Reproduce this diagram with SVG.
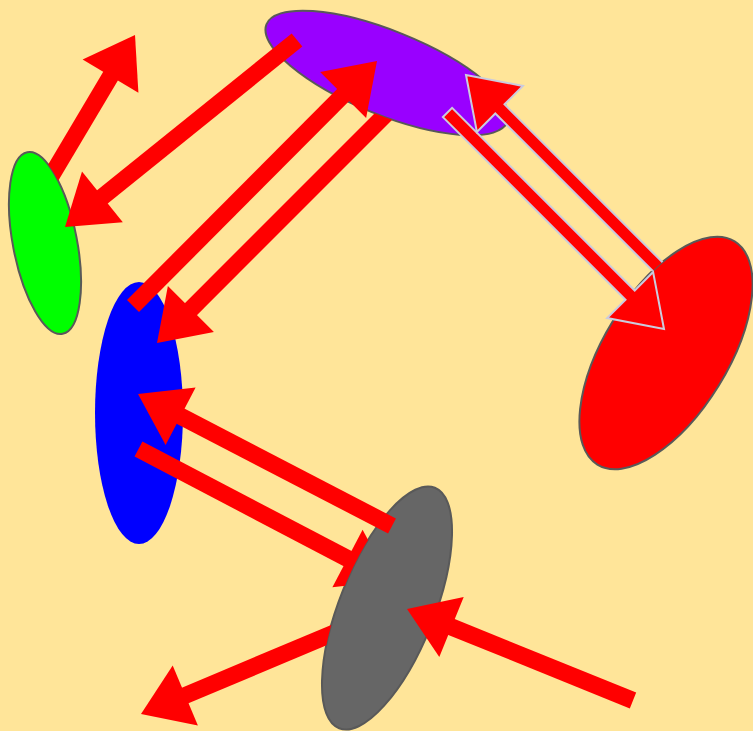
<svg xmlns="http://www.w3.org/2000/svg" width="753" height="731" viewBox="0 0 753 731">
<style>
.node{stroke:#595959;stroke-width:2}
.shaft{stroke:#FF0000;stroke-width:17;stroke-linecap:butt;fill:none}
.head{fill:#FF0000;stroke:none}
.outlined{fill:#FF0000;stroke:#CBCBDD;stroke-width:2;stroke-linejoin:miter}
</style>
<defs>
<mask id="notGreen" maskUnits="userSpaceOnUse" x="0" y="0" width="753" height="731">
<rect width="753" height="731" fill="#fff"/>
<ellipse cx="45" cy="243" rx="32" ry="92.5" transform="rotate(-11 45 243)" fill="#000"/>
</mask>
<mask id="notPurple" maskUnits="userSpaceOnUse" x="0" y="0" width="753" height="731">
<rect width="753" height="731" fill="#fff"/>
<ellipse cx="387" cy="73" rx="130" ry="42" transform="rotate(22 387 73)" fill="#000"/>
</mask>
<mask id="notRed" maskUnits="userSpaceOnUse" x="0" y="0" width="753" height="731">
<rect width="753" height="731" fill="#fff"/>
<ellipse cx="666" cy="353" rx="62" ry="131" transform="rotate(31.6 666 353)" fill="#000"/>
</mask>
<mask id="notGray" maskUnits="userSpaceOnUse" x="0" y="0" width="753" height="731">
<rect width="753" height="731" fill="#fff"/>
<ellipse cx="387" cy="608" rx="47.4" ry="129.4" transform="rotate(21.7 387 608)" fill="#000"/>
</mask>
</defs>
<rect width="753" height="731" fill="#FFE599"/>
<g id="nodes">
<g id="node-purple"><ellipse class="node" cx="387" cy="73" rx="130" ry="42" transform="rotate(22 387 73)" fill="#9900FF"/></g>
<g id="node-green"><ellipse class="node" cx="45" cy="243" rx="32" ry="92.5" transform="rotate(-11 45 243)" fill="#00FF00"/></g>
<g id="node-blue"><ellipse cx="139" cy="413" rx="44" ry="131" fill="#0000FF"/></g>
<g id="node-red"><ellipse class="node" cx="666" cy="353" rx="62" ry="131" transform="rotate(31.6 666 353)" fill="#FF0000"/></g>
<g id="node-gray"><ellipse class="node" cx="387" cy="608" rx="47.4" ry="129.4" transform="rotate(21.7 387 608)" fill="#666666"/></g>
</g>
<g id="connectors">
<g id="green-out" mask="url(#notGreen)">
<line class="shaft" x1="39" y1="196.5" x2="112.5" y2="72.8"/>
<polygon class="head" points="135,35 138.4,92.8 82.6,59.6"/>
</g>
<g id="purple-green">
<line class="shaft" x1="297" y1="40" x2="99.3" y2="199.4"/>
<polygon class="head" points="65,227 122.8,222.2 82,171.6"/>
</g>
<g id="blue-purple">
<line class="shaft" x1="133" y1="306" x2="345.9" y2="92.2"/>
<polygon class="head" points="377,61 366.1,117.9 320.1,72.1"/>
</g>
<g id="purple-blue" mask="url(#notPurple)">
<line class="shaft" x1="395" y1="105" x2="188.1" y2="311.9"/>
<polygon class="head" points="157,343 213.9,332.1 167.9,286.1"/>
</g>
<g id="purple-red">
<polygon class="outlined" points="442.9,117.1 625.5,299.7 607.1,318.1 664,329 653.1,272.1 634.7,290.5 452.1,107.9"/>
</g>
<g id="red-purple" mask="url(#notRed)">
<polygon class="outlined" points="679.5,279.3 504.5,104.3 522.9,85.9 466,75 476.9,131.9 495.3,113.5 670.3,288.5"/>
</g>
<g id="gray-blue">
<line class="shaft" x1="392" y1="526" x2="177.1" y2="414.4"/>
<polygon class="head" points="138,394 195.6,387.4 165.6,445"/>
</g>
<g id="blue-gray" mask="url(#notGray)">
<line class="shaft" x1="138.5" y1="449" x2="351" y2="560.4"/>
<polygon class="head" points="390,580.8 332.4,587.3 362.6,529.7"/>
</g>
<g id="in-gray">
<line class="shaft" x1="633" y1="700.5" x2="447.8" y2="625.5"/>
<polygon class="head" points="407,609 463.7,596.9 439.3,657.1"/>
</g>
<g id="gray-out" mask="url(#notGray)">
<line class="shaft" x1="369.7" y1="618" x2="181.6" y2="697"/>
<polygon class="head" points="141,714 197.9,725.4 172.7,665.4"/>
</g>
</g>
</svg>
